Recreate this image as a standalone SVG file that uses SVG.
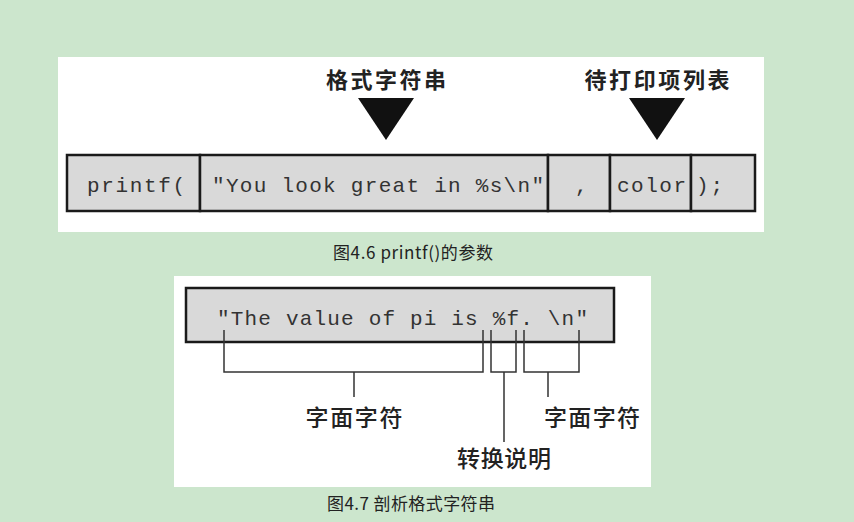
<svg xmlns="http://www.w3.org/2000/svg" width="854" height="522" viewBox="0 0 854 522">
<style>
.panel{fill:#ffffff}
.cell{fill:#d9d9d9;stroke:#1a1a1a;stroke-width:2.5}
.code{font-family:"Liberation Mono","DejaVu Sans Mono",monospace;font-size:21px;fill:#333}
.lbl{font-family:"Noto Sans CJK SC",sans-serif;font-size:22px;font-weight:bold;fill:#222}
.lbl2{font-family:"Noto Sans CJK SC",sans-serif;font-size:23px;font-weight:500;fill:#222}
.cap{font-family:"Noto Sans CJK SC",sans-serif;font-size:17px;fill:#222}
.br{fill:none;stroke:#333;stroke-width:1.5}
.tri{fill:#111}
</style>
<rect width="854" height="522" fill="#cce6cd"/>
<rect class="panel" x="58" y="57" width="706" height="175"/>
<rect class="panel" x="174" y="276" width="477" height="211"/>
<g id="label-format">
<text class="lbl" x="386" y="88" text-anchor="middle" textLength="120">格式字符串</text>
<polygon class="tri" points="358,98 414,98 386,140"/>
</g>
<g id="label-list">
<text class="lbl" x="657" y="88" text-anchor="middle" textLength="145">待打印项列表</text>
<polygon class="tri" points="629,98 685,98 657,140"/>
</g>
<g id="row1">
<rect class="cell" x="67" y="155" width="133" height="56"/>
<rect class="cell" x="200" y="155" width="348" height="56"/>
<rect class="cell" x="548" y="155" width="62" height="56"/>
<rect class="cell" x="610" y="155" width="81" height="56"/>
<rect class="cell" x="691" y="155" width="64" height="56"/>
<text class="code" x="87" y="192" textLength="98">printf(</text>
<text class="code" x="212" y="192" textLength="332">"You look great in %s\n"</text>
<text class="code" x="575" y="192">,</text>
<text class="code" x="617" y="192" textLength="69">color</text>
<text class="code" x="696" y="192" textLength="27">);</text>
</g>
<g id="caption1">
<text class="cap" x="333" y="259" textLength="160">图4.6 printf()的参数</text>
</g>
<g id="row2">
<rect class="cell" x="186" y="288" width="428" height="54" stroke-width="3.5"/>
<text class="code" x="217" y="325" textLength="371">"The value of pi is %f. \n"</text>
</g>
<g id="connectors">
<path class="br" d="M224,330 V372 H483 V330 M354,372 V397"/>
<path class="br" d="M491,330 V372 H516 V330 M504,372 V442"/>
<path class="br" d="M524,330 V372 H579 V330 M548,372 V397"/>
</g>
<g id="literal1">
<text class="lbl2" x="354" y="426" text-anchor="middle" textLength="97">字面字符</text>
</g>
<g id="literal2">
<text class="lbl2" x="592" y="426" text-anchor="middle" textLength="96">字面字符</text>
</g>
<g id="conversion">
<text class="lbl2" x="504" y="467" text-anchor="middle" textLength="94">转换说明</text>
</g>
<g id="caption2">
<text class="cap" x="327" y="510" textLength="168">图4.7 剖析格式字符串</text>
</g>
</svg>
